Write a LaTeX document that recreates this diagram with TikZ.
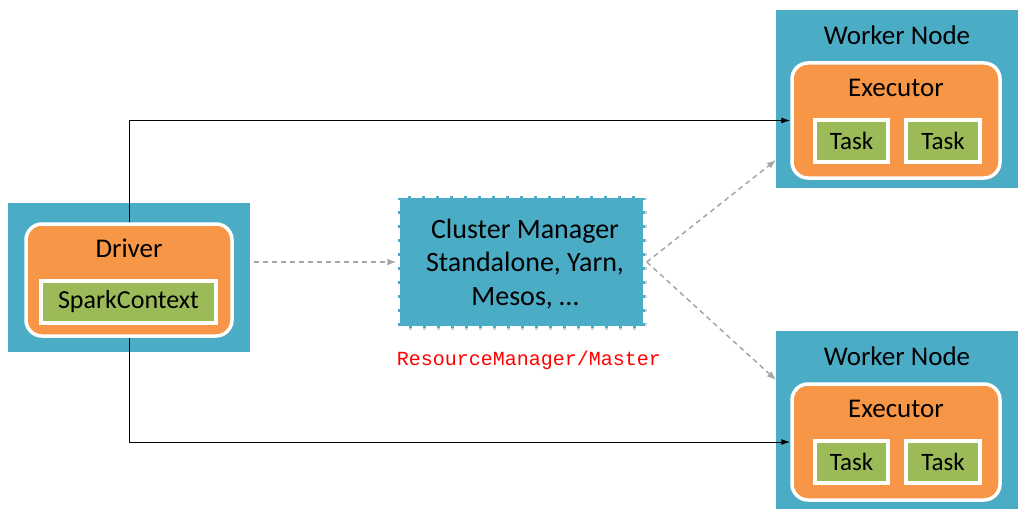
\documentclass[tikz,border=0pt]{standalone}
\usepackage{fontspec}
\setmainfont{Carlito}
\newfontfamily\redmono{Liberation Mono}
\usetikzlibrary{arrows.meta,shadows,calc}
\definecolor{teal}{HTML}{4BACC6}
\definecolor{orng}{HTML}{F79646}
\definecolor{grn}{HTML}{9BBB59}
\definecolor{dgray}{HTML}{A6A6A6}
\tikzset{
  shd/.style={drop shadow={opacity=0.35, fill=gray, shadow xshift=1.5pt, shadow yshift=-2pt}},
  outerbox/.style={rectangle, fill=teal, draw=white, line width=3.5pt, shd},
  orangebox/.style={rectangle, rounded corners=16pt, fill=orng, draw=white, line width=3.5pt, shd},
  greenbox/.style={rectangle, fill=grn, draw=white, line width=3.5pt, shd},
  cmbox/.style={rectangle, fill=teal, draw=white, line width=3.5pt, dash pattern=on 11pt off 3pt, shd},
  lbl/.style={font=\fontsize{27}{33}\selectfont, text=black, inner sep=0pt},
  tasklbl/.style={font=\fontsize{25}{30}\selectfont, text=black, inner sep=0pt},
  solidarrow/.style={-{Latex[length=9pt,width=6pt]}, line width=1pt, black},
  dasharrow/.style={-{Latex[length=9pt,width=7pt]}, line width=1.5pt, dgray, dash pattern=on 5pt off 4pt},
}
\begin{document}
\begin{tikzpicture}[x=1pt,y=-1pt]
\useasboundingbox[fill=white] (0,0) rectangle (1027,524);

% Driver
\node[outerbox, minimum width=246pt, minimum height=153pt] (drvout) at (129,277.5) {};
\node[orangebox, minimum width=206pt, minimum height=112pt] (drv) at (129,280) {};
\node[greenbox, minimum width=175pt, minimum height=42pt] (sc) at (128.5,302) {};
\node[lbl] (drvlbl) at (129,248) {Driver};
\node[lbl, font=\fontsize{26}{30}\selectfont] (sclbl) at (128.5,302) {SparkContext};

% Cluster manager
\node[cmbox, minimum width=247pt, minimum height=132pt] (cm) at (521.5,262) {};
\node[lbl, align=center, font=\fontsize{28}{33.5}\selectfont] (cmlbl) at (525,264) {Cluster Manager\\Standalone, Yarn,\\Mesos, \ldots};
\node[inner sep=0pt, text=red, font=\redmono\fontsize{20}{24}\selectfont] (rm) at (529,360) {ResourceManager/Master};

% Worker 1
\node[outerbox, minimum width=246pt, minimum height=182pt] (wk1) at (897,99) {};
\node[lbl] (wk1lbl) at (897,35) {Worker Node};
\node[orangebox, minimum width=208pt, minimum height=115pt] (exe1) at (896,120.5) {};
\node[lbl] (exe1lbl) at (896,88) {Executor};
\node[greenbox, minimum width=73pt, minimum height=42pt] (t11) at (851.5,141) {};
\node[greenbox, minimum width=74pt, minimum height=42pt] (t12) at (943,141) {};
\node[tasklbl] (t11lbl) at (851.5,141) {Task};
\node[tasklbl] (t12lbl) at (943,141) {Task};

% Worker 2
\node[outerbox, minimum width=246pt, minimum height=182pt] (wk2) at (897,420) {};
\node[lbl] (wk2lbl) at (897,356) {Worker Node};
\node[orangebox, minimum width=208pt, minimum height=116pt] (exe2) at (896,442) {};
\node[lbl] (exe2lbl) at (896,409) {Executor};
\node[greenbox, minimum width=73pt, minimum height=42pt] (t21) at (851.5,462) {};
\node[greenbox, minimum width=74pt, minimum height=42pt] (t22) at (943,462) {};
\node[tasklbl] (t21lbl) at (851.5,462) {Task};
\node[tasklbl] (t22lbl) at (943,462) {Task};

% connectors
\coordinate (w1in) at (776,160);
\coordinate (w2in) at (776,380);
\draw[solidarrow] (drv.north) |- (exe1.west);
\draw[solidarrow] (drv.south) |- (exe2.west);
\draw[dasharrow] (drvout.east |- cm.west) -- (cm.west);
\draw[dasharrow] (cm.east) -- (w1in);
\draw[dasharrow] (cm.east) -- (w2in);
\end{tikzpicture}
\end{document}
